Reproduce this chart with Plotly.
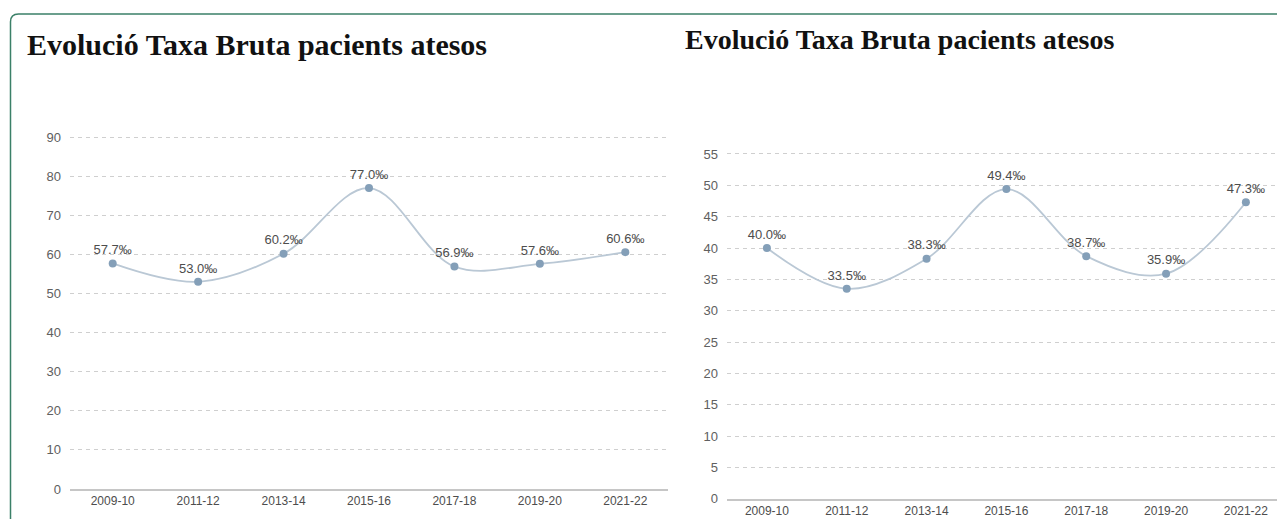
import plotly.graph_objects as go

# the page keeps the default 8px body margin: shift everything by OFF and let
# the right and bottom edges of the figure run past the window, like the reference
OFF = 8
W, H = 1285 - OFF, 519 - OFF

periods = ["2009-10", "2011-12", "2013-14", "2015-16", "2017-18", "2019-20", "2021-22"]
taxa_esquerra = [57.7, 53.0, 60.2, 77.0, 56.9, 57.6, 60.6]
taxa_dreta = [40.0, 33.5, 38.3, 49.4, 38.7, 35.9, 47.3]
titol = "Evolució Taxa Bruta pacients atesos"

LINE = "#bac8d5"
MARKER = "#849fb8"
GRID = "#cfcfcf"
TICK = "#606060"


def px_x(v):
    return (v - OFF) / W


def px_y(v):
    return 1 - (v - OFF) / H


fig = go.Figure()

for serie, xa, ya in [(taxa_esquerra, "x", "y"), (taxa_dreta, "x2", "y2")]:
    fig.add_trace(go.Scatter(
        x=periods,
        y=serie,
        xaxis=xa,
        yaxis=ya,
        mode="lines+markers+text",
        line=dict(color=LINE, width=1.8, shape="spline", smoothing=1.0),
        marker=dict(color=MARKER, size=8),
        texttemplate="%{y:.1f}‰",
        textposition="top center",
        textfont=dict(family="Liberation Sans, Arial", size=13, color="#4d4d4d"),
        showlegend=False,
        cliponaxis=False,
    ))

axis_x = dict(
    type="category",
    showgrid=False,
    showline=True,
    linecolor="#c6c6c6",
    linewidth=2,
    ticks="",
    zeroline=False,
    tickfont=dict(family="Liberation Sans, Arial", size=12, color="#4d4d4d"),
    fixedrange=True,
)
axis_y = dict(
    showgrid=True,
    gridcolor=GRID,
    griddash="4px,4px",
    gridwidth=1,
    zeroline=False,
    showline=False,
    ticks="",
    ticklabelstandoff=8,
    tickfont=dict(family="Liberation Sans, Arial", size=13, color=TICK),
    fixedrange=True,
)

# left: 0 at y=496.5, 90 at y=137 -> range padded to 91 so the top grid shows
# right: 0 at y=506.5, 55 at y=154 -> range padded to 55.8
fig.update_layout(
    width=W,
    height=H,
    margin=dict(l=0, r=0, t=0, b=0),
    paper_bgcolor="white",
    plot_bgcolor="white",
    xaxis=dict(axis_x, domain=[px_x(70), px_x(668)], range=[-0.5, 6.5], anchor="y"),
    yaxis=dict(axis_y, domain=[px_y(496.5), px_y(133)], range=[0, 91], dtick=10, anchor="x"),
    xaxis2=dict(axis_x, domain=[px_x(727), 1.0], range=[-0.5, 6.49], anchor="y2"),
    yaxis2=dict(axis_y, domain=[px_y(506.5), px_y(149)], range=[0, 55.8], dtick=5, anchor="x2"),
)

# titols
fig.add_annotation(
    text=f"<b>{titol}</b>", xref="paper", yref="paper",
    x=px_x(25), y=px_y(42), xanchor="left", yanchor="middle", showarrow=False,
    font=dict(family="Liberation Serif, Times New Roman", size=30, color="#111111"),
)
fig.add_annotation(
    text=f"<b>{titol}</b>", xref="paper", yref="paper",
    x=px_x(683), y=px_y(37), xanchor="left", yanchor="middle", showarrow=False,
    font=dict(family="Liberation Serif, Times New Roman", size=28, color="#111111"),
)

# marc verd
fig.add_shape(
    type="path", xref="paper", yref="paper",
    path=(f"M {px_x(10.5)} {px_y(H + 40)} L {px_x(10.5)} {px_y(19)} "
          f"Q {px_x(10.5)} {px_y(11)} {px_x(18.5)} {px_y(11)} L {px_x(W + 40)} {px_y(11)}"),
    line=dict(color="#3b8068", width=1.5),
)

fig.write_html("out.html")
